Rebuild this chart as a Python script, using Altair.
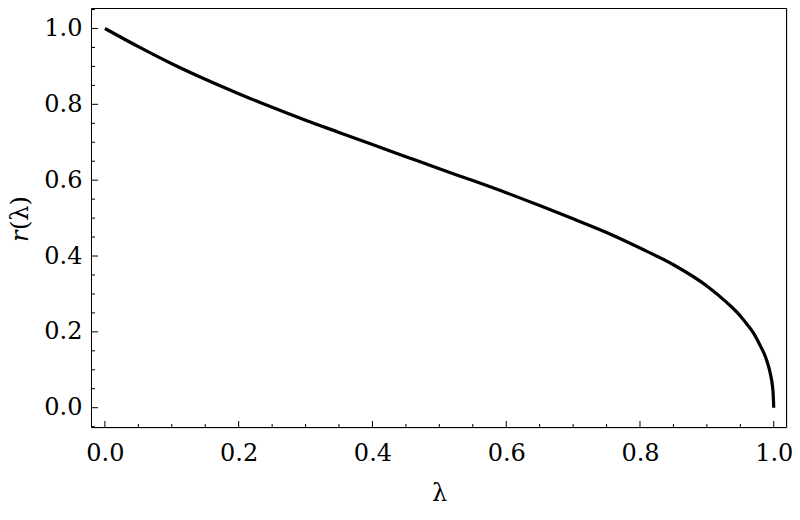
import altair as alt
import pandas as pd

# curve values
lam = [0.00, 0.05, 0.10, 0.15, 0.20, 0.25, 0.30, 0.35, 0.40, 0.45, 0.50, 0.55,
       0.60, 0.65, 0.70, 0.75, 0.80, 0.85, 0.90, 0.93, 0.95, 0.96, 0.97, 0.98,
       0.985, 0.99, 0.995, 0.998, 0.999, 1.00]
r = [1.000, 0.952, 0.907, 0.866, 0.828, 0.792, 0.758, 0.726, 0.694, 0.662, 0.630, 0.599,
     0.567, 0.533, 0.498, 0.462, 0.421, 0.377, 0.321, 0.277, 0.242, 0.220, 0.196, 0.163,
     0.145, 0.122, 0.089, 0.058, 0.040, 0.000]

x_major = [0.0, 0.2, 0.4, 0.6, 0.8, 1.0]
x_minor = [0.05, 0.1, 0.15, 0.25, 0.3, 0.35, 0.45, 0.5, 0.55, 0.65, 0.7, 0.75,
           0.85, 0.9, 0.95]
y_major = [0.0, 0.2, 0.4, 0.6, 0.8, 1.0]
y_minor = [-0.05, 0.05, 0.1, 0.15, 0.25, 0.3, 0.35, 0.45, 0.5, 0.55, 0.65, 0.7,
           0.75, 0.85, 0.9, 0.95, 1.05]

W, H = 696, 420
FONT = "DejaVu Serif"
FS = 24

xs = alt.Scale(domain=[-0.0208, 1.0198], nice=False, zero=False)
ys = alt.Scale(domain=[-0.0535, 1.054], nice=False, zero=False)

x_axis = alt.Axis(values=x_major, format=".1f", ticks=False, domain=False, grid=False,
                  labelFont=FONT, labelFontSize=FS, labelColor="black", labelPadding=13,
                  title="λ", titleFont=FONT, titleFontSize=FS, titleFontWeight="normal",
                  titleColor="black", titlePadding=16)
y_axis = alt.Axis(values=y_major, format=".1f", ticks=False, domain=False, grid=False,
                  labelFont=FONT, labelFontSize=FS, labelColor="black", labelPadding=9,
                  title=None)

X = alt.X("lam:Q", scale=xs, axis=x_axis)
Y = alt.Y("r:Q", scale=ys, axis=y_axis)

curve = alt.Chart(pd.DataFrame({"lam": lam, "r": r})).mark_line(
    color="black", strokeWidth=3.2, interpolate="monotone"
).encode(x=X, y=Y)

ymaj = alt.Chart(pd.DataFrame({"r": y_major})).mark_rule(color="black", strokeWidth=1).encode(
    y=Y, x=alt.value(0), x2=alt.value(7))
ymin = alt.Chart(pd.DataFrame({"r": y_minor})).mark_rule(color="black", strokeWidth=1).encode(
    y=Y, x=alt.value(0), x2=alt.value(4))
xmaj = alt.Chart(pd.DataFrame({"lam": x_major})).mark_rule(color="black", strokeWidth=1).encode(
    x=X, y=alt.value(H), y2=alt.value(H - 7))
xmin = alt.Chart(pd.DataFrame({"lam": x_minor})).mark_rule(color="black", strokeWidth=1).encode(
    x=X, y=alt.value(H), y2=alt.value(H - 4))

# crisp frame around the plot area
frame = alt.Chart(pd.DataFrame({"k": [0]})).mark_rect(
    fill="transparent", stroke="black", strokeWidth=1
).encode(x=alt.value(0.5), x2=alt.value(W - 0.5), y=alt.value(0.5), y2=alt.value(H - 0.5))

ytitle_r = alt.Chart(pd.DataFrame({"t": ["r"]})).mark_text(
    angle=270, align="left", baseline="middle", font=FONT, fontSize=FS,
    fontStyle="italic", color="black"
).encode(text="t:N", x=alt.value(-70), y=alt.value(234))
ytitle_rest = alt.Chart(pd.DataFrame({"t": ["(λ)"]})).mark_text(
    angle=270, align="left", baseline="middle", font=FONT, fontSize=FS, color="black"
).encode(text="t:N", x=alt.value(-70), y=alt.value(222))

chart = alt.layer(frame, ymin, ymaj, xmin, xmaj, curve, ytitle_r, ytitle_rest).properties(
    width=W, height=H,
    autosize=alt.AutoSizeParams(type="none"),
    padding={"left": 83, "top": 0, "right": 5, "bottom": 83},
).configure_view(stroke=None).configure(background="white")

chart.save("out.html", embed_options={"renderer": "svg", "actions": False})
